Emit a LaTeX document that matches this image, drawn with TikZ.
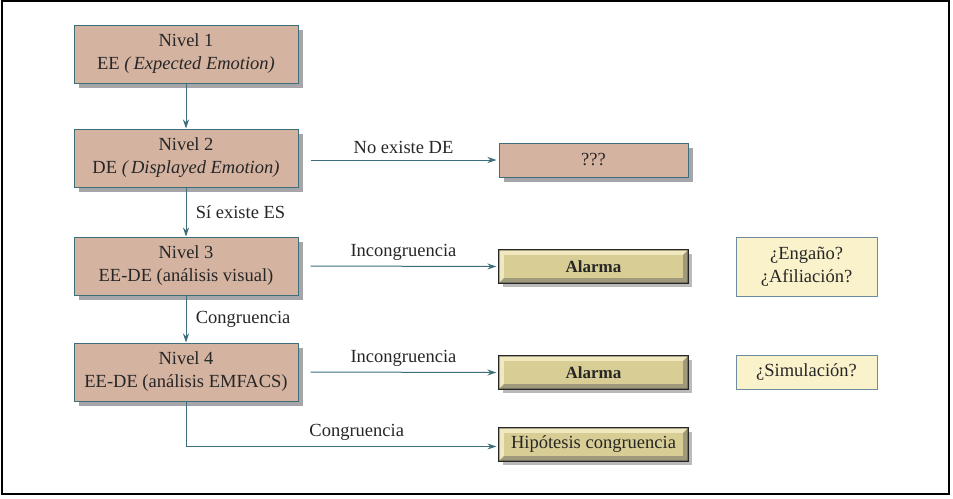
\documentclass[tikz,border=0pt]{standalone}
\usepackage{fontspec}
\setmainfont{Liberation Serif}
\usetikzlibrary{arrows.meta,shadows,calc}
\definecolor{pinkfill}{RGB}{213,179,161}
\definecolor{tealline}{RGB}{62,110,122}
\definecolor{shadowgray}{RGB}{165,165,170}
\definecolor{khaki}{RGB}{216,205,148}
\definecolor{khakilight}{RGB}{240,232,190}
\definecolor{khakidark}{RGB}{120,110,70}
\definecolor{creamfill}{RGB}{250,242,202}
\definecolor{creamline}{RGB}{110,140,160}
\tikzset{
  x=1pt,y=-1pt,
  every node/.style={font=\fontsize{18.5}{23}\selectfont, text=black!85},
  level/.style={draw=tealline, line width=1pt, fill=pinkfill, minimum width=224pt, minimum height=58pt, align=center, inner sep=0pt,
     drop shadow={shadow xshift=5pt, shadow yshift=-5pt, fill=shadowgray, opacity=1}},
  qbox/.style={draw=tealline, line width=1pt, fill=pinkfill, minimum width=189pt, minimum height=34pt, inner sep=0pt,
     drop shadow={shadow xshift=5pt, shadow yshift=-5pt, fill=shadowgray, opacity=1}},
  notebox/.style={draw=creamline, line width=0.8pt, fill=creamfill, minimum width=141pt, align=center, inner sep=0pt},
  alarmbox/.style={draw=black!85, line width=1.2pt, fill=khaki, minimum width=189pt, minimum height=33pt, inner sep=0pt,
     drop shadow={shadow xshift=4pt, shadow yshift=-4pt, fill=black!45, opacity=0.6}},
  conn/.style={draw=tealline, line width=1pt, -{Stealth[length=9pt,width=6pt]}},
  lbl/.style={font=\fontsize{18.5}{22}\selectfont}
}
\begin{document}
\begin{tikzpicture}
\useasboundingbox (0,0) rectangle (953,498);
\draw[line width=2pt, black] (2,1) rectangle (949,494);
% level boxes
\node[level] (n1) at (186,54) {Nivel 1\\EE \textit{(\,Expected Emotion)}};
\node[level] (n2) at (186,158) {Nivel 2\\DE \textit{(\,Displayed Emotion)}};
\node[level] (n3) at (186,266) {Nivel 3\\EE-DE (análisis visual)};
\node[level] (n4) at (186,372) {Nivel 4\\EE-DE (análisis EMFACS)};
% right boxes
\node[qbox] (q) at (593.5,160) {???};
\node[alarmbox] (a1) at (593.5,266.5) {};
\node[alarmbox] (a2) at (593.5,372.5) {};
\node[alarmbox] (h) at (593.5,444.5) {};
\foreach \b in {a1,a2,h}{
  \fill[khakilight] ($( \b.north west)+(1,1)$) -- ($(\b.north east)+(-1,1)$) -- ($(\b.north east)+(-6,6)$) -- ($(\b.south west)+(6,-6)$) -- ($(\b.south west)+(1,-1)$) -- cycle;
  \fill[khakidark!70] ($( \b.south east)+(-1,-1)$) -- ($(\b.north east)+(-1,1)$) -- ($(\b.north east)+(-6,6)$) -- ($(\b.south west)+(6,-6)$) -- ($(\b.south west)+(1,-1)$) -- cycle;
  \fill[khaki] ($(\b.north west)+(6,6)$) rectangle ($(\b.south east)+(-6,-6)$);
  \draw[black!85, line width=1.2pt] (\b.north west) rectangle (\b.south east);
}
\node[font=\fontsize{17}{20}\selectfont\bfseries] (a1t) at (a1.center) {Alarma};
\node[font=\fontsize{17}{20}\selectfont\bfseries] (a2t) at (a2.center) {Alarma};
\node[font=\fontsize{18.5}{20}\selectfont] (ht) at (h.center) {Hipótesis congruencia};
\node[notebox, minimum height=59pt] (e1) at (806.5,266.5) {¿Engaño?\\¿Afiliación?};
\node[notebox, minimum height=34pt] (e2) at (806.5,372) {¿Simulación?};
% connectors
\draw[conn] (n1.south) -- (n2.north);
\draw[conn] (n2.south) -- (n3.north) node[midway, right=6pt, lbl] (l2) {Sí existe ES};
\draw[conn] (n3.south) -- (n4.north) node[midway, right=6pt, lbl] (l3) {Congruencia};
\draw[conn] ($(n2.east)+(12,2)$) -- ($(q.west)+(-2,0)$) node[midway, above=2pt, lbl] (l1) {No existe DE};
\draw[conn] ($(n3.east)+(12,0)$) -- ($(a1.west)+(-2,0)$) node[midway, above=2pt, lbl] (l4) {Incongruencia};
\draw[conn] ($(n4.east)+(12,0)$) -- ($(a2.west)+(-2,0)$) node[midway, above=2pt, lbl] (l5) {Incongruencia};
\coordinate (corner) at (n4.south |- h.west);
\draw[conn] (n4.south) -- ($(corner)+(0,2)$) -- ($(h.west)+(-2,2)$) node[pos=0.55, above=2pt, lbl] (l6) {Congruencia};
\end{tikzpicture}
\end{document}
